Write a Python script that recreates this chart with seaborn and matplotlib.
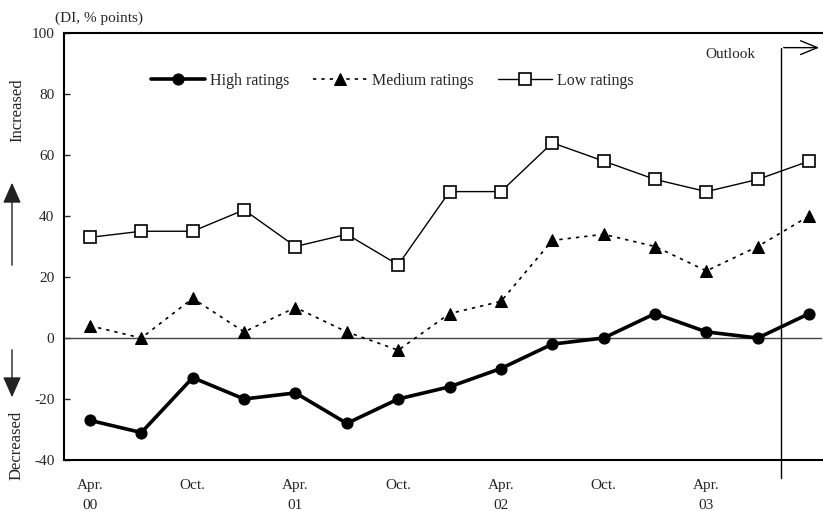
import matplotlib
matplotlib.use("Agg")
import matplotlib.pyplot as plt
import seaborn as sns
import numpy as np
import pandas as pd

sns.set_style("white")
plt.rcParams['font.family'] = ['Liberation Serif', 'DejaVu Serif']
plt.rcParams['font.size'] = 11

# ---- data ----
periods = ["Apr.00", "Jul.00", "Oct.00", "Jan.01", "Apr.01", "Jul.01", "Oct.01",
           "Jan.02", "Apr.02", "Jul.02", "Oct.02", "Jan.03", "Apr.03", "Jul.03", "Outlook"]
high = [-27, -31, -13, -20, -18, -28, -20, -16, -10, -2, 0, 8, 2, 0, 8]
medium = [4, 0, 13, 2, 10, 2, -4, 8, 12, 32, 34, 30, 22, 30, 40]
low = [33, 35, 35, 42, 30, 34, 24, 48, 48, 64, 58, 52, 48, 52, 58]
tick_pos = [0, 2, 4, 6, 8, 10, 12]
tick_labels = ["Apr.\n00", "Oct.", "Apr.\n01", "Oct.", "Apr.\n02", "Oct.", "Apr.\n03"]
yticks = [-40, -20, 0, 20, 40, 60, 80, 100]

df = pd.DataFrame({"x": np.arange(len(periods)), "High ratings": high,
                   "Medium ratings": medium, "Low ratings": low})

W, H = 823, 511
fig = plt.figure(figsize=(W / 100, H / 100), dpi=100)
ax = fig.add_axes([64 / W, 1 - 460 / H, (822 - 64) / W, (460 - 33) / H])

ax.axhline(0, color="#444444", lw=1.0, zorder=1)

sns.lineplot(data=df, x="x", y="High ratings", ax=ax, color="black", lw=2.6,
             marker="o", markersize=8, markeredgecolor="black", label="High ratings", zorder=3)
sns.lineplot(data=df, x="x", y="Medium ratings", ax=ax, color="black", lw=1.2,
             linestyle=(0, (2, 3)), marker="^", markersize=8, markeredgecolor="black",
             label="Medium ratings", zorder=3)
sns.lineplot(data=df, x="x", y="Low ratings", ax=ax, color="black", lw=1.0,
             marker="s", markersize=8, markerfacecolor="white", markeredgecolor="black",
             markeredgewidth=1.2, label="Low ratings", zorder=3)

ax.set_xlim(-0.506, 14.25)
ax.set_ylim(-40, 100)
ax.set_yticks(yticks)
ax.set_yticklabels([str(v) for v in yticks])
ax.set_xticks(tick_pos)
ax.set_xticklabels(tick_labels, linespacing=1.7)
ax.tick_params(axis="x", length=0, pad=14)
ax.tick_params(axis="y", direction="in", length=4, width=1, pad=7, left=True)
ax.set_xlabel("")
ax.set_ylabel("")

for s in ["left", "top", "bottom"]:
    ax.spines[s].set_visible(True)
    ax.spines[s].set_color("black")
    ax.spines[s].set_linewidth(1.5)
ax.spines["right"].set_visible(False)

# Outlook marker
xo = 13.45
ax.plot([xo, xo], [-46, 95.2], color="black", lw=1.0, clip_on=False, zorder=2)
ax.annotate("", xy=(14.25, 95.2), xytext=(xo, 95.2),
            arrowprops=dict(arrowstyle="->,head_length=1.1,head_width=0.45", lw=1.0, color="black"),
            annotation_clip=False)
ax.text(12.95, 93, "Outlook", ha="right", va="center", fontsize=11)

leg = ax.legend(loc="center", bbox_to_anchor=(0.433, 0.888), ncol=3, frameon=False,
                handlelength=3.4, columnspacing=1.5, handletextpad=0.3, fontsize=11.5)

# annotations outside axes
fig.text(55 / W, 1 - 18 / H, "(DI, % points)", ha="left", va="center", fontsize=11)
fig.text(17 / W, 1 - 110 / H, "Increased", rotation=90, ha="center", va="center", fontsize=12)
fig.text(17 / W, 1 - 445 / H, "Decreased", rotation=90, ha="center", va="center", fontsize=12)
fig.patches.append(matplotlib.patches.FancyArrowPatch((12 / W, 1 - 268 / H), (12 / W, 1 - 180 / H),
                   transform=fig.transFigure, arrowstyle="-|>,head_length=0.9,head_width=0.4",
                   color="#222222", lw=1.0, mutation_scale=14))
fig.patches.append(matplotlib.patches.FancyArrowPatch((12 / W, 1 - 347 / H), (12 / W, 1 - 400 / H),
                   transform=fig.transFigure, arrowstyle="-|>,head_length=0.9,head_width=0.4",
                   color="#222222", lw=1.0, mutation_scale=14))

fig.savefig("out.png", dpi=100)
